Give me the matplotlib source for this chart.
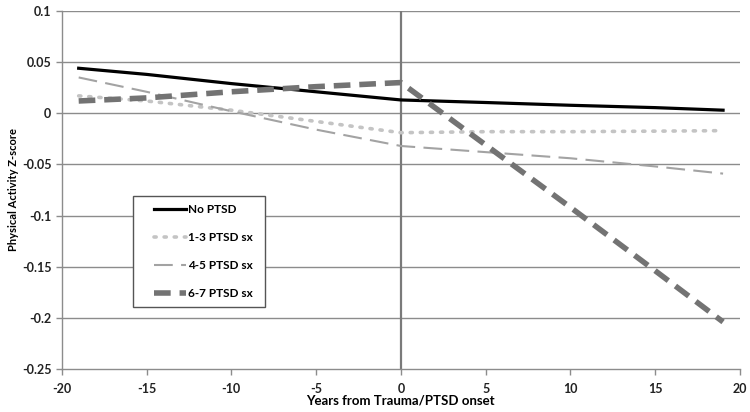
import matplotlib.pyplot as plt
from matplotlib.patches import Rectangle

plt.rcParams['font.family'] = ['Lato', 'DejaVu Sans']

years = [-19, -15, -10, -5, 0, 5, 10, 15, 19]
no_ptsd = [0.044, 0.038, 0.029, 0.021, 0.013, 0.0105, 0.0078, 0.0055, 0.003]
ptsd_1_3 = [0.017, 0.012, 0.003, -0.008, -0.019, -0.018, -0.018, -0.0175, -0.017]
ptsd_4_5 = [0.035, 0.021, 0.002, -0.016, -0.032, -0.038, -0.044, -0.052, -0.059]
ptsd_6_7 = [0.012, 0.015, 0.021, 0.026, 0.030, -0.031, -0.092, -0.154, -0.204]

labels = ['No PTSD', '1-3 PTSD sx', '4-5 PTSD sx', '6-7 PTSD sx']
yticks = [0.1, 0.05, 0, -0.05, -0.1, -0.15, -0.2, -0.25]
ytick_labels = ['0.1', '0.05', '0', '-0.05', '-0.1', '-0.15', '-0.2', '-0.25']
xticks = [-20, -15, -10, -5, 0, 5, 10, 15, 20]

fig = plt.figure(figsize=(7.5, 4.12), dpi=100)
ax = fig.add_axes([0.0823, 0.1044, 0.9044, 0.869])

for y in yticks:
    if y != -0.25:
        ax.axhline(y, color='#8c8c8c', linewidth=1.0, zorder=1)
ax.axvline(0, color='#7a7a7a', linewidth=1.6, zorder=1)

ax.plot(years, no_ptsd, color='black', linewidth=2.3, label=labels[0], zorder=3)
ax.plot(years, ptsd_1_3, color='#c4c4c4', linewidth=2.6, linestyle=(0, (0.6, 2.2)),
        dash_capstyle='round', label=labels[1], zorder=3)
ax.plot(years, ptsd_4_5, color='#a3a3a3', linewidth=1.5, linestyle=(0, (9, 4)),
        label=labels[2], zorder=3)
ax.plot(years, ptsd_6_7, color='#737373', linewidth=4.0, linestyle=(0, (3, 1.6)),
        label=labels[3], zorder=4)

ax.set_xlim(-20, 20)
ax.set_ylim(-0.25, 0.1)
ax.set_xticks(xticks)
ax.set_xticklabels([str(x) for x in xticks], fontsize=9, fontweight='bold', color='#222222')
ax.set_yticks(yticks)
ax.set_yticklabels(ytick_labels, fontsize=9, fontweight='bold', color='#222222')
ax.tick_params(axis='both', direction='out', length=4, color='#8c8c8c', width=1)
ax.tick_params(axis='x', pad=6)

for s in ['top', 'right']:
    ax.spines[s].set_visible(False)
for s in ['left', 'bottom']:
    ax.spines[s].set_color('#8c8c8c')
    ax.spines[s].set_linewidth(1.0)

ax.set_xlabel('Years from Trauma/PTSD onset', fontsize=9.5, fontweight='bold', labelpad=0)
ax.set_ylabel('Physical Activity Z-score', fontsize=8, fontweight='bold')
ax.yaxis.set_label_coords(-0.063, 0.5)

# legend box (drawn separately, wider than the entries like the original)
box = Rectangle((133 / 750, 1 - 307 / 412), 132 / 750, 111 / 412,
                transform=fig.transFigure, facecolor='white',
                edgecolor='#555555', linewidth=1.0, zorder=5, clip_on=False)
ax.add_patch(box)
leg = ax.legend(loc='upper left', bbox_to_anchor=(154 / 750, 1 - 204 / 412),
                bbox_transform=fig.transFigure, frameon=False,
                handlelength=2.7, labelspacing=1.45, borderpad=0, borderaxespad=0,
                handletextpad=0.2, prop={'size': 8.5, 'weight': 'bold'})
leg.set_zorder(6)

plt.savefig('out.png', dpi=100)
